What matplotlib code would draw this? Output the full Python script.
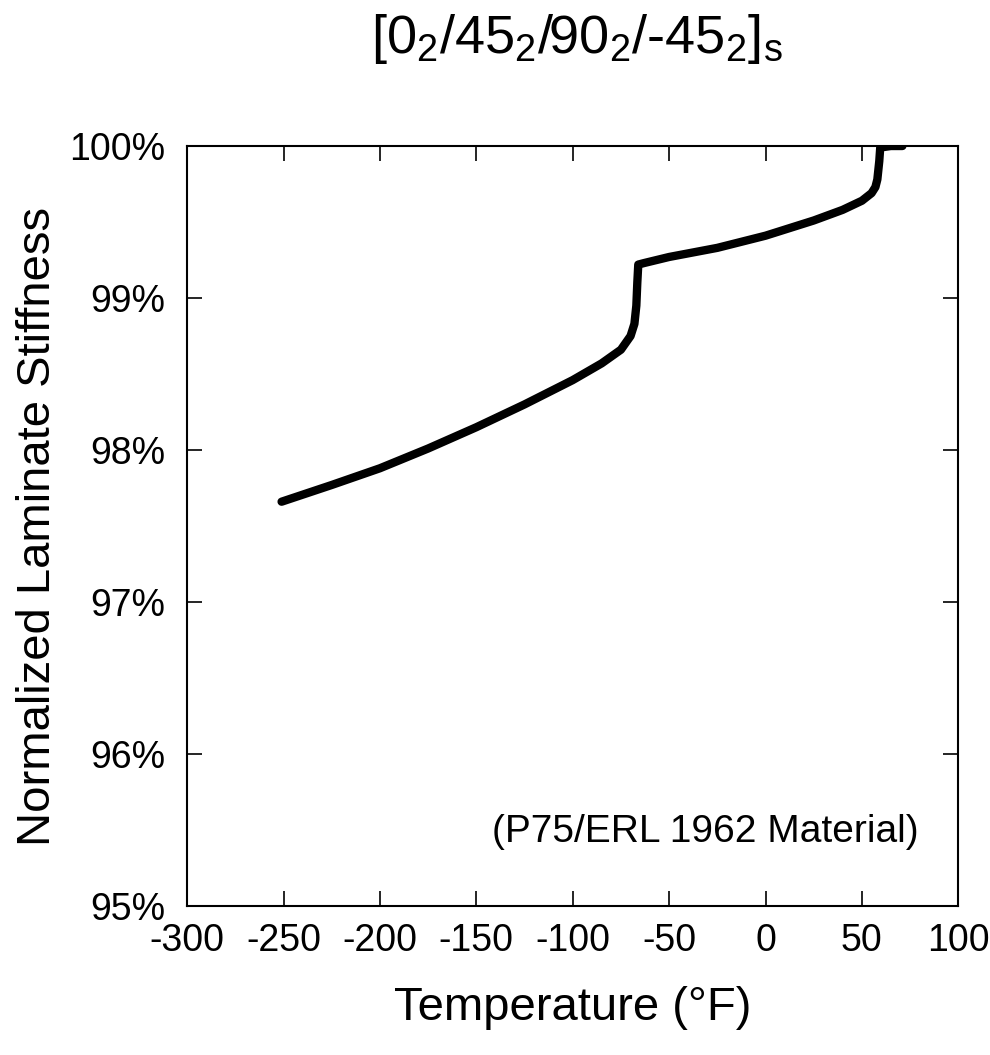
import numpy as np
import matplotlib
matplotlib.use('Agg')
import matplotlib.pyplot as plt
from matplotlib.ticker import FuncFormatter

plt.rcParams['font.family'] = ['Liberation Sans', 'DejaVu Sans']
plt.rcParams['mathtext.fontset'] = 'custom'
plt.rcParams['mathtext.rm'] = 'Liberation Sans'
plt.rcParams['mathtext.it'] = 'Liberation Sans'

# temperature (F) and normalized stiffness (%)
temp = [-251, -225, -200, -175, -150, -125, -100, -85, -75, -70, -68, -67, -66.5, -66,
        -63, -50, -25, 0, 25, 40, 50, 55, 57, 58, 59, 59.5, 65, 71]
stiff = [97.66, 97.77, 97.88, 98.01, 98.15, 98.30, 98.46, 98.57, 98.66, 98.75, 98.83,
         98.95, 99.10, 99.22, 99.23, 99.27, 99.33, 99.41, 99.51, 99.58, 99.64, 99.69,
         99.73, 99.78, 99.90, 99.99, 100.0, 100.0]

xticks = [-300, -250, -200, -150, -100, -50, 0, 50, 100]
yticks = [95, 96, 97, 98, 99, 100]

fig = plt.figure(figsize=(9.9, 10.55), dpi=100)
ax = fig.add_axes([0.189, 0.1412, 0.779, 0.7204])

ax.plot(temp, stiff, color='black', lw=6, solid_capstyle='round', solid_joinstyle='round')

ax.set_xlim(-300, 100)
ax.set_ylim(95, 100)
ax.set_xticks(xticks)
ax.set_yticks(yticks)
ax.xaxis.set_major_formatter(FuncFormatter(lambda v, p: '%d' % v))
ax.yaxis.set_major_formatter(FuncFormatter(lambda v, p: '%d%%' % v))
ax.tick_params(direction='in', length=11, width=1.2, top=True, right=True,
               labelsize=27, pad=12)
ax.tick_params(axis='y', pad=16)
for s in ax.spines.values():
    s.set_linewidth(1.5)

ax.set_xlabel('Temperature (°F)', fontsize=34, labelpad=20)
ax.set_ylabel('Normalized Laminate Stiffness', fontsize=34, labelpad=6)

ax.text(0.948, 0.097, '(P75/ERL 1962 Material)', transform=ax.transAxes,
        ha='right', va='center', fontsize=28)

fig.text(0.583, 0.963, r'$[0_2/45_2/90_2/\text{-}45_2]_s$', ha='center', va='center',
         fontsize=39)

fig.savefig('out.png', dpi=100)
